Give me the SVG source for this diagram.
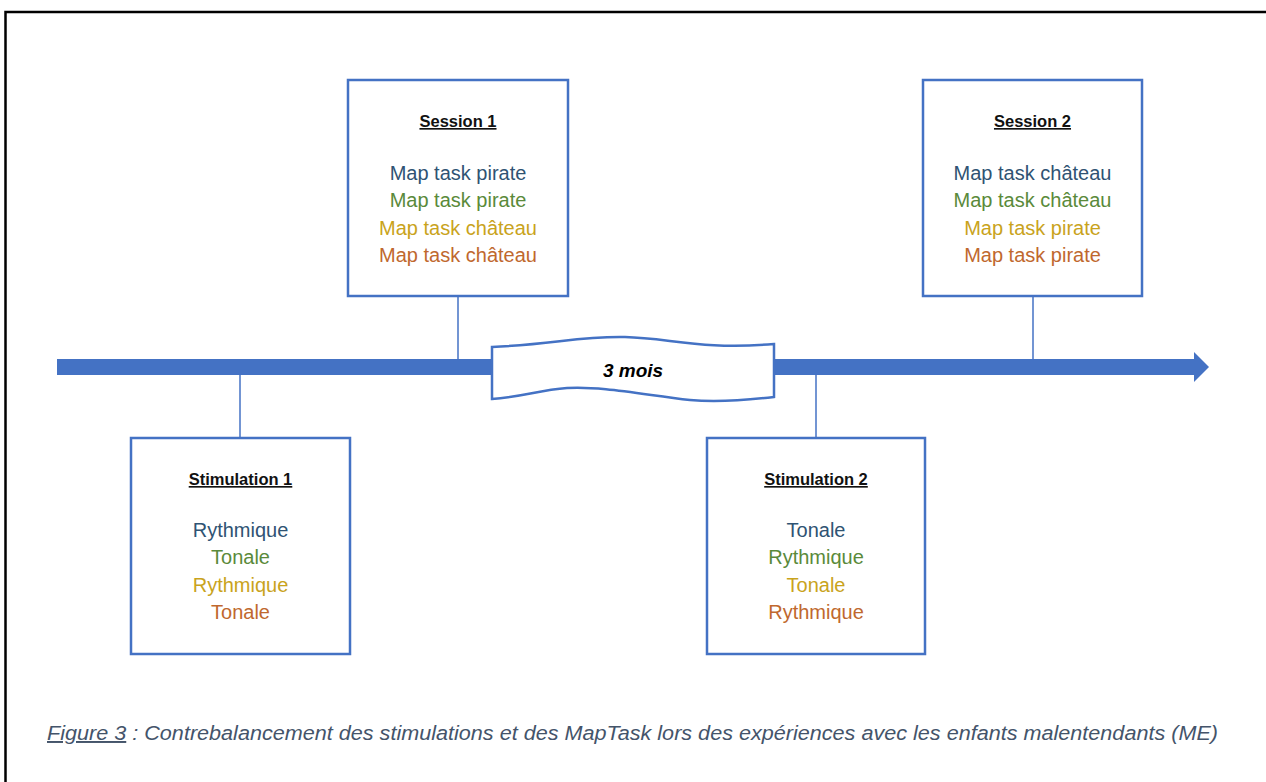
<svg xmlns="http://www.w3.org/2000/svg" width="1266" height="782" viewBox="0 0 1266 782">
<style>
.box{fill:#fff;stroke:#4472C4;stroke-width:2.5}
.conn{stroke:#4472C4;stroke-width:1.5;fill:none}
.t{font-family:"Liberation Sans",Arial,sans-serif;font-size:20px;text-anchor:middle}
.h{font-family:"Liberation Sans",Arial,sans-serif;font-size:16.5px;font-weight:bold;text-anchor:middle;text-decoration:underline;fill:#111}
.c1{fill:#2F5373}.c2{fill:#5A8A3A}.c3{fill:#C9A31C}.c4{fill:#C0682E}
</style>
<rect width="1266" height="782" fill="#fff"/>
<rect x="5.5" y="12" width="1300" height="800" fill="none" stroke="#000" stroke-width="2.5"/>
<g id="timeline">
<rect x="57" y="359" width="1138" height="16" fill="#4472C4"/>
<polygon points="1194,352 1209,367 1194,382" fill="#4472C4"/>
</g>
<g id="connectors">
<line class="conn" x1="458" y1="296" x2="458" y2="360"/>
<line class="conn" x1="1033" y1="296" x2="1033" y2="360"/>
<line class="conn" x1="240" y1="374" x2="240" y2="438"/>
<line class="conn" x1="816" y1="374" x2="816" y2="438"/>
</g>
<g id="gap">
<path d="M492,347 C555,344 580,336 625,337 C670,338 700,350 774,344 L774,397 C740,401 710,402 690,400 C640,394 600,386 567,388 C540,390 520,397 492,399 Z" fill="#fff" stroke="#4472C4" stroke-width="2.5"/>
<text x="633" y="377" font-family="Liberation Sans,Arial,sans-serif" font-size="19" font-weight="bold" font-style="italic" text-anchor="middle" fill="#000">3 mois</text>
</g>
<g id="session1">
<rect class="box" x="348" y="80" width="220" height="216"/>
<text class="h" x="458" y="127">Session 1</text>
<text class="t c1" x="458" y="180">Map task pirate</text>
<text class="t c2" x="458" y="207">Map task pirate</text>
<text class="t c3" x="458" y="235">Map task château</text>
<text class="t c4" x="458" y="262">Map task château</text>
</g>
<g id="session2">
<rect class="box" x="923" y="80" width="219" height="216"/>
<text class="h" x="1032.5" y="127">Session 2</text>
<text class="t c1" x="1032.5" y="180">Map task château</text>
<text class="t c2" x="1032.5" y="207">Map task château</text>
<text class="t c3" x="1032.5" y="235">Map task pirate</text>
<text class="t c4" x="1032.5" y="262">Map task pirate</text>
</g>
<g id="stimulation1">
<rect class="box" x="131" y="438" width="219" height="216"/>
<text class="h" x="240.5" y="485">Stimulation 1</text>
<text class="t c1" x="240.5" y="537">Rythmique</text>
<text class="t c2" x="240.5" y="564">Tonale</text>
<text class="t c3" x="240.5" y="592">Rythmique</text>
<text class="t c4" x="240.5" y="619">Tonale</text>
</g>
<g id="stimulation2">
<rect class="box" x="707" y="438" width="218" height="216"/>
<text class="h" x="816" y="485">Stimulation 2</text>
<text class="t c1" x="816" y="537">Tonale</text>
<text class="t c2" x="816" y="564">Rythmique</text>
<text class="t c3" x="816" y="592">Tonale</text>
<text class="t c4" x="816" y="619">Rythmique</text>
</g>
<g id="caption">
<text x="47" y="740" font-family="Liberation Sans,Arial,sans-serif" font-size="19.5" font-style="italic" fill="#44546A" textLength="1171" lengthAdjust="spacingAndGlyphs"><tspan text-decoration="underline">Figure 3</tspan> : Contrebalancement des stimulations et des MapTask lors des expériences avec les enfants malentendants (ME)</text>
</g>
</svg>
